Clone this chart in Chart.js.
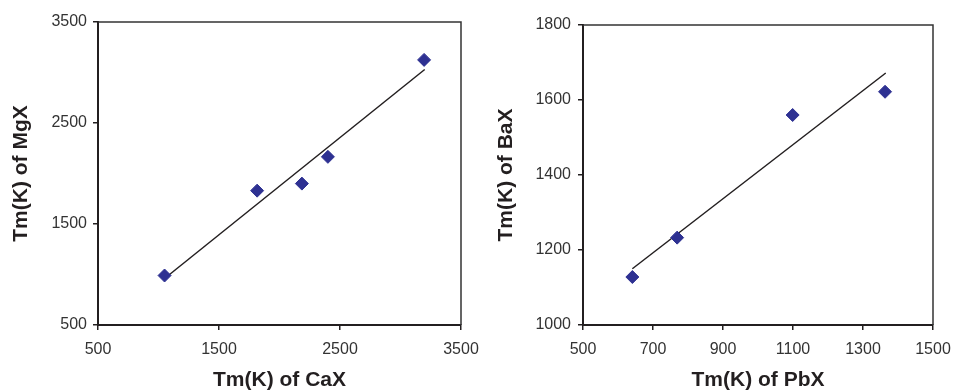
<!DOCTYPE html>
<html>
<head>
<meta charset="utf-8">
<script src="https://cdn.jsdelivr.net/npm/chart.js@4/dist/chart.umd.min.js"></script>
<style>
	html, body { margin: 0; padding: 0; background: #fff; }
	#wrap { position: relative; width: 955px; height: 391px; }
	.box { position: absolute; top: 0; height: 391px; }
	#left { left: 0; width: 480px; }
	#right { left: 480px; width: 475px; }
</style>
</head>
<body>
<div id="wrap">
	<div class="box" id="left"><canvas id="c1"></canvas></div>
	<div class="box" id="right"><canvas id="c2"></canvas></div>
</div>
<script>
// melting points
const caX = [1050, 1815, 2185, 2400, 3195];
const mgX = [990, 1830, 1900, 2165, 3125];
const caTrendX = [1050, 3200];
const mgTrendY = [960, 3030];

const pbX = [641, 769, 1099, 1363];
const baX = [1128, 1233, 1560, 1622];
const pbTrendX = [641, 1365];
const baTrendY = [1150, 1672];

const leftTicks = { min: 500, max: 3500, step: 1000 };
const rightXTicks = { min: 500, max: 1500, step: 200 };
const rightYTicks = { min: 1000, max: 1800, step: 200 };

Chart.defaults.font.family = '"Liberation Sans", Arial, sans-serif';

const INK = '#231f20';
const MARK = '#2e3192';

// closes the plot frame on top and right
const frame = {
	id: 'frame',
	afterDraw(chart) {
		const { ctx, chartArea: a } = chart;
		ctx.save();
		ctx.strokeStyle = '#333';
		ctx.lineWidth = 1.5;
		ctx.beginPath();
		ctx.moveTo(a.left, a.top);
		ctx.lineTo(a.right, a.top);
		ctx.lineTo(a.right, a.bottom);
		ctx.stroke();
		ctx.restore();
	}
};

function zip(xs, ys) {
	return xs.map((x, i) => ({ x: x, y: ys[i] }));
}

function makeChart(el, opt) {
	return new Chart(el, {
		type: 'scatter',
		data: {
			datasets: [
				{
					data: zip(opt.xs, opt.ys),
					pointStyle: 'rectRot',
					pointRadius: 6.5,
					pointBorderWidth: 1,
					backgroundColor: MARK,
					borderColor: MARK,
					showLine: false,
				},
				{
					data: zip(opt.tx, opt.ty),
					showLine: true,
					pointRadius: 0,
					borderColor: INK,
					borderWidth: 1.5,
					fill: false,
				}
			]
		},
		options: {
			animation: false,
			responsive: true,
			maintainAspectRatio: false,
			events: [],
			layout: {
				padding: { left: 0, right: opt.padRight, top: opt.padTop, bottom: 0 }
			},
			plugins: {
				legend: { display: false },
				tooltip: { enabled: false },
			},
			scales: {
				x: {
					type: 'linear',
					min: opt.xt.min,
					max: opt.xt.max,
					afterFit: (s) => {
						s.height = 66;
						s.paddingLeft = 0;
						s.paddingRight = 0;
					},
					afterBuildTicks: (s) => {
						const t = [];
						for (let v = opt.xt.min; v <= opt.xt.max; v += opt.xt.step) t.push({ value: v });
						s.ticks = t;
					},
					border: { display: true, color: INK, width: 2 },
					grid: { drawOnChartArea: false, drawTicks: true, tickLength: 5, color: INK, lineWidth: 1.5 },
					ticks: {
						color: '#333',
						font: { size: 16 },
						padding: 10,
						maxRotation: 0,
						callback: (v) => String(v),
					},
					title: {
						display: true,
						text: opt.xTitle,
						color: INK,
						font: { size: 21, weight: 'bold' },
						padding: { top: 0, bottom: -2 },
					}
				},
				y: {
					type: 'linear',
					min: opt.yt.min,
					max: opt.yt.max,
					afterFit: (s) => {
						s.width = opt.yWidth;
						s.paddingTop = 0;
						s.paddingBottom = 0;
					},
					afterBuildTicks: (s) => {
						const t = [];
						for (let v = opt.yt.min; v <= opt.yt.max; v += opt.yt.step) t.push({ value: v });
						s.ticks = t;
					},
					border: { display: true, color: INK, width: 2 },
					grid: { drawOnChartArea: false, drawTicks: true, tickLength: 5, color: INK, lineWidth: 1.5 },
					ticks: {
						color: '#333',
						font: { size: 16 },
						padding: opt.yPad,
						callback: (v) => String(v),
					},
					title: {
						display: true,
						text: opt.yTitle,
						color: INK,
						font: { size: 21, weight: 'bold' },
						padding: { top: opt.yTitlePad, bottom: 0 },
					}
				}
			}
		},
		plugins: [frame]
	});
}

makeChart(document.getElementById('c1'), {
	xs: caX, ys: mgX, tx: caTrendX, ty: mgTrendY,
	xt: leftTicks, yt: leftTicks,
	xTitle: 'Tm(K) of CaX', yTitle: 'Tm(K) of MgX',
	padRight: 19, padTop: 22, yWidth: 98, yPad: 6, yTitlePad: 9,
});

makeChart(document.getElementById('c2'), {
	xs: pbX, ys: baX, tx: pbTrendX, ty: baTrendY,
	xt: rightXTicks, yt: rightYTicks,
	xTitle: 'Tm(K) of PbX', yTitle: 'Tm(K) of BaX',
	padRight: 22, padTop: 25, yWidth: 103, yPad: 7, yTitlePad: 14,
});
</script>
</body>
</html>
